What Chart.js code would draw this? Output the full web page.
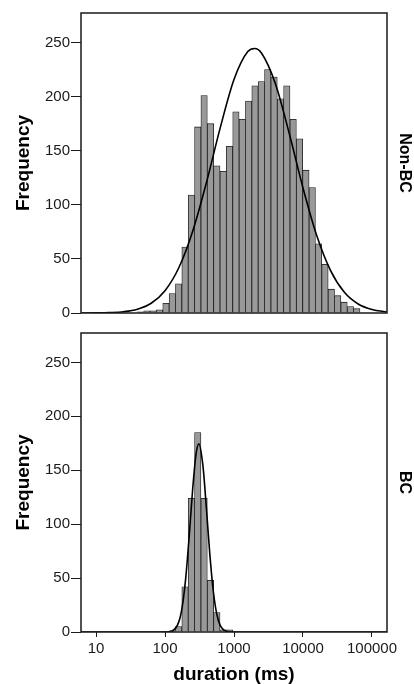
<!DOCTYPE html>
<html><head><meta charset="utf-8">
<script src="https://cdn.jsdelivr.net/npm/chart.js@4.4.1/dist/chart.umd.min.js"></script>
<style>
html,body{margin:0;padding:0;background:#fff;}
#wrap{position:relative;width:414px;height:684px;overflow:hidden;}
#c1{position:absolute;left:0;top:0;}
#c2{position:absolute;left:0;top:323px;}
</style></head><body>
<div id="wrap">
<canvas id="c1" width="414" height="323"></canvas>
<canvas id="c2" width="414" height="361"></canvas>
</div>
<script>
// ---- data ----
const binCentersMs = [44.1, 54.6, 67.5, 83.4, 103.2, 127.6, 157.7, 195.0, 241.2, 298.2,
  368.7, 456.0, 563.8, 697.1, 861.9, 1065.9, 1318.1, 1629.5, 2015.0, 2491.6,
  3081.0, 3809.7, 4710.8, 5825, 7203, 8906, 11013, 13618, 16839, 20822,
  25747, 31836, 39366, 48676, 60189];
const nonBcCounts = [1, 2, 2, 3, 9, 18, 27, 61, 109, 172,
  201, 175, 136, 131, 154, 186, 179, 196, 210, 214,
  225, 218, 198, 210, 179, 161, 132, 116, 64, 45,
  22, 16, 10, 6, 4];
const bcCentersMs = [127.6, 157.7, 195.0, 241.2, 298.2, 368.7, 456.0, 563.8, 697.1, 861.9];
const bcCounts = [1, 5, 42, 124, 185, 124, 48, 18, 2, 2];

const nonBcCurveX = [6.06, 10, 15.8, 25.1, 39.8, 63.1, 100, 158.5, 251.2, 398.1, 631, 1000,
  1585, 1995, 2512, 3981, 6310, 10000, 15849, 25119, 39811, 63096, 100000, 165000];
const nonBcCurveY = [0.02, 0.1, 0.4, 1.2, 3.5, 9.0, 20.6, 41.8, 75.4, 120.5, 171.1, 215.8,
  241.6, 244.5, 240.1, 211.9, 166.1, 115.6, 71.4, 39.2, 19.1, 8.3, 3.2, 0.9];
const bcCurveX = [6.06, 50, 100, 125.9, 158.5, 177.8, 199.5, 223.9, 251.2, 281.8, 309.0,
  354.8, 398.1, 446.7, 501.2, 562.3, 631.0, 794.3, 1000, 10000, 165000];
const bcCurveY = [0, 0, 0.04, 0.9, 9.4, 23.6, 49.8, 88.3, 131.7, 165, 174.5,
  154, 114.6, 71.8, 37.8, 16.7, 6.2, 0.5, 0.02, 0, 0];

const yTicks = [0, 50, 100, 150, 200, 250];
const xTicks = [10, 100, 1000, 10000, 100000];
const panelLabels = ['Non-BC', 'BC'];
const xTitle = 'duration (ms)';
const yTitle = 'Frequency';

// ---- styling ----
const FONT = '"Liberation Sans", Arial, Helvetica, sans-serif';
const X_MIN = 6.06, X_MAX = 165000, Y_MAX = 277.3;

const framePlugin = {
  id: 'frame',
  afterDraw(chart, args, opts) {
    const {ctx, chartArea: a} = chart;
    ctx.save();
    ctx.strokeStyle = '#1a1a1a';
    ctx.lineWidth = 1.5;
    ctx.strokeRect(a.left, a.top, a.right - a.left, a.bottom - a.top);
    ctx.translate(a.right + 13, (a.top + a.bottom) / 2);
    ctx.rotate(Math.PI / 2);
    ctx.font = 'bold 16px ' + FONT;
    ctx.textAlign = 'center';
    ctx.textBaseline = 'alphabetic';
    ctx.fillStyle = '#000';
    ctx.fillText(opts.text, 0, 0);
    ctx.restore();
  }
};

function pts(xs, ys) { return xs.map((x, i) => ({x: x, y: ys[i]})); }

function makeChart(id, barX, barY, curveX, curveY, label, showX, padding) {
  const xScale = {
    type: 'logarithmic', min: X_MIN, max: X_MAX, display: showX, offset: false,
    afterBuildTicks: s => { s.ticks = xTicks.map(v => ({value: v})); },
    ticks: {color: '#1a1a1a', font: {family: FONT, size: 15}, padding: 3, autoSkip: false, maxRotation: 0,
      callback: v => String(v)},
    grid: {offset: false, drawOnChartArea: false, drawTicks: true, tickLength: 5, color: '#1a1a1a', lineWidth: 1},
    border: {display: false},
    title: {display: true, text: xTitle, color: '#000', font: {family: FONT, size: 19, weight: 'bold', lineHeight: 1},
      padding: {top: 0, bottom: 0}}
  };
  if (showX) xScale.afterFit = s => { s.height = 52; };
  return new Chart(document.getElementById(id), {
    type: 'bar',
    data: {
      datasets: [
        {type: 'line', data: pts(curveX, curveY), borderColor: '#000', borderWidth: 1.6,
          pointRadius: 0, fill: false, cubicInterpolationMode: 'monotone', order: 0},
        {type: 'bar', data: pts(barX, barY), backgroundColor: '#999999', borderColor: '#1a1a1a',
          borderWidth: 0.8, barPercentage: 1, categoryPercentage: 1, grouped: false, order: 1}
      ]
    },
    options: {
      responsive: false, animation: false, devicePixelRatio: 1,
      layout: {padding: padding},
      plugins: {legend: {display: false}, tooltip: {enabled: false}, frame: {text: label}},
      scales: {
        x: xScale,
        y: {
          type: 'linear', min: 0, max: Y_MAX,
          afterBuildTicks: s => { s.ticks = yTicks.map(v => ({value: v})); },
          afterFit: s => { s.width = 81; },
          ticks: {color: '#1a1a1a', font: {family: FONT, size: 15}, padding: 1, autoSkip: false},
          grid: {drawOnChartArea: false, drawTicks: true, tickLength: 10, color: '#1a1a1a', lineWidth: 1},
          border: {display: false},
          title: {display: true, text: yTitle, color: '#000', font: {family: FONT, size: 19, weight: 'bold', lineHeight: 1},
            padding: {top: 14.5, bottom: 0}}
        }
      }
    },
    plugins: [framePlugin]
  });
}

makeChart('c1', binCentersMs, nonBcCounts, nonBcCurveX, nonBcCurveY, panelLabels[0], false,
  {left: 0, right: 27, top: 13, bottom: 5});
makeChart('c2', bcCentersMs, bcCounts, bcCurveX, bcCurveY, panelLabels[1], true,
  {left: 0, right: 27, top: 4, bottom: 0});
</script>
</body></html>
